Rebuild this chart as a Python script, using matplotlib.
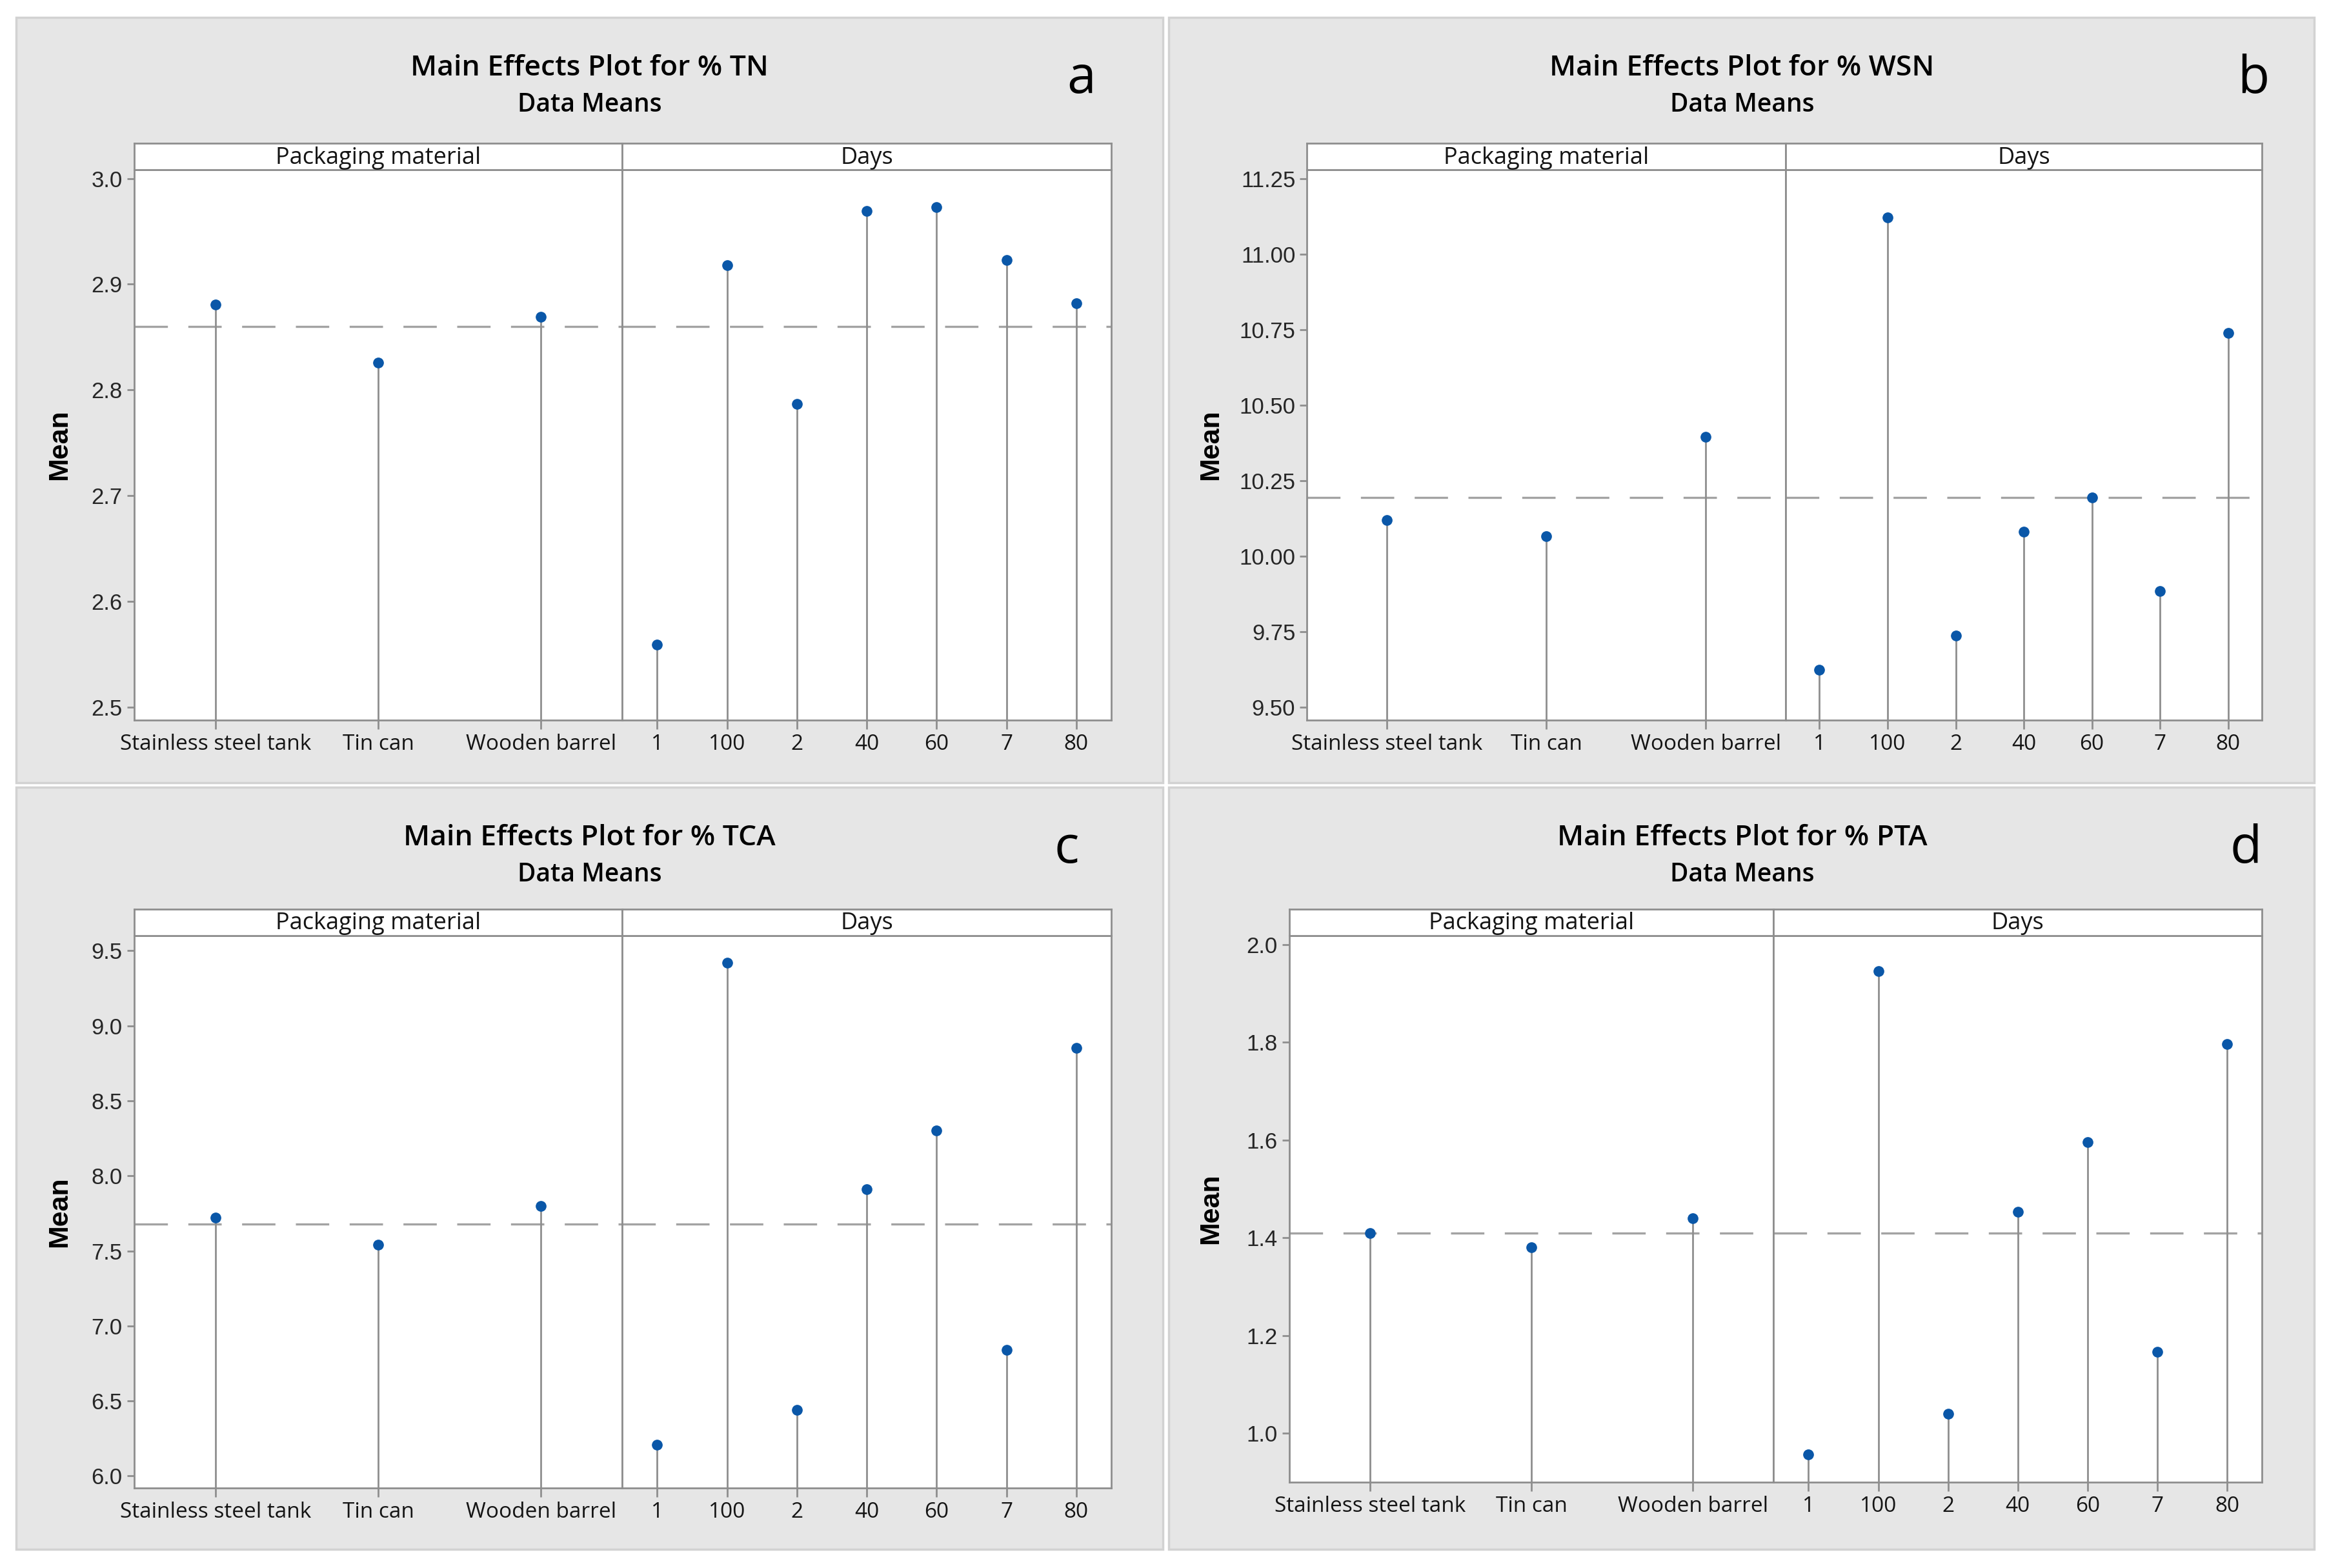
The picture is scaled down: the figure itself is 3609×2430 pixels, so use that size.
import matplotlib
matplotlib.use("Agg")
import matplotlib.pyplot as plt
from matplotlib.patches import Rectangle

# factor levels
materials = ["Stainless steel tank", "Tin can", "Wooden barrel"]
days = ["1", "100", "2", "40", "60", "7", "80"]

# panel a: % TN
tn_mat = [2.881, 2.826, 2.869]
tn_days = [2.559, 2.918, 2.787, 2.969, 2.973, 2.923, 2.882]
tn_mean = 2.860

# panel b: % WSN
wsn_mat = [10.12, 10.066, 10.395]
wsn_days = [9.624, 11.122, 9.737, 10.081, 10.194, 9.885, 10.739]
wsn_mean = 10.194

# panel c: % TCA
tca_mat = [7.72, 7.54, 7.80]
tca_days = [6.21, 9.42, 6.44, 7.91, 8.30, 6.84, 8.85]
tca_mean = 7.68

# panel d: % PTA
pta_mat = [1.41, 1.38, 1.44]
pta_days = [0.957, 1.945, 1.04, 1.453, 1.596, 1.167, 1.796]
pta_mean = 1.41

GRAY = "#8e8e8e"
BLUE = "#0a57a8"
TXT = ["Open Sans", "DejaVu Sans"]
NUM = ["Liberation Sans", "DejaVu Sans"]

fig = plt.figure(figsize=(36.09, 24.30), dpi=100)
fig.patch.set_facecolor("white")


def panel(bg, left, mid, right, bottom, top, strip_top, title, letter, tx, lx,
          mat_vals, day_vals, mean, ylim, yticks, fmt, ylabel_x):
    # grey panel background (behind the axes)
    fig.patches.append(Rectangle((bg[0], bg[1]), bg[2] - bg[0], bg[3] - bg[1],
                                 transform=fig.transFigure, facecolor="#e6e6e6",
                                 edgecolor="#d2d2d2", linewidth=2.5, zorder=-5))
    ty = bg[3] - 0.0325
    fig.text(tx, ty, "Main Effects Plot for " + title, ha="center", va="center",
             fontsize=32, fontweight="semibold", family=TXT)
    fig.text(tx, ty - 0.0235, "Data Means", ha="center", va="center",
             fontsize=28, fontweight="semibold", family=TXT)
    fig.text(lx, ty - 0.007, letter, ha="center", va="center", fontsize=58, family=TXT)

    ax1 = fig.add_axes([left, bottom, mid - left, top - bottom])
    ax2 = fig.add_axes([mid, bottom, right - mid, top - bottom], sharey=ax1)
    for ax, labels, vals in [(ax1, materials, mat_vals), (ax2, days, day_vals)]:
        x = list(range(len(labels)))
        ax.set_xlim(-0.5, len(labels) - 0.5)
        ax.set_ylim(*ylim)
        ax.vlines(x, ylim[0], vals, color=GRAY, lw=2.0, zorder=2)
        ax.axhline(mean, color="#a3a3a3", lw=2.4, dashes=(15.5, 9.5), zorder=1)
        ax.plot(x, vals, "o", color=BLUE, ms=11, zorder=3)
        ax.set_xticks(x)
        ax.set_xticklabels(labels, fontsize=24, family=TXT, color="#141414")
        for s in ax.spines.values():
            s.set_color(GRAY)
            s.set_linewidth(2.0)
        ax.tick_params(axis="x", length=10, width=2, color=GRAY, pad=5)
    ax1.set_yticks(yticks)
    ax1.set_yticklabels([fmt % v for v in yticks], fontsize=25, family=NUM, color="#262626")
    ax1.tick_params(axis="y", length=8, width=2, color=GRAY, pad=5)
    ax2.tick_params(axis="y", left=False, labelleft=False)
    fig.text(ylabel_x, (bottom + top) / 2, "Mean", rotation=90, ha="center", va="center",
             fontsize=31, fontweight="bold", family=NUM)

    # strip headers
    for a, b, name in [(left, mid, "Packaging material"), (mid, right, "Days")]:
        sx = fig.add_axes([a, top, b - a, strip_top - top])
        sx.set_xticks([])
        sx.set_yticks([])
        for s in sx.spines.values():
            s.set_color(GRAY)
            s.set_linewidth(2.0)
        sx.text(0.5, 0.45, name, ha="center", va="center", fontsize=26,
                family=TXT, color="#141414", transform=sx.transAxes)


panel((0.0069, 0.5008, 0.4994, 0.9889), 0.0576, 0.2672, 0.4771, 0.5406, 0.8918, 0.9086,
      "% TN", "a", 0.2532, 0.4643, tn_mat, tn_days, tn_mean, (2.4874, 3.0084),
      [2.5, 2.6, 2.7, 2.8, 2.9, 3.0], "%.1f", 0.0255)
panel((0.5019, 0.5008, 0.9936, 0.9889), 0.5612, 0.7666, 0.9713, 0.5406, 0.8918, 0.9086,
      "% WSN", "b", 0.748, 0.9675, wsn_mat, wsn_days, wsn_mean, (9.456, 11.28),
      [9.5, 9.75, 10.0, 10.25, 10.5, 10.75, 11.0, 11.25], "%.2f", 0.5198)
panel((0.0069, 0.0121, 0.4994, 0.498), 0.0576, 0.2672, 0.4771, 0.0510, 0.4033, 0.4203,
      "% TCA", "c", 0.2532, 0.4579, tca_mat, tca_days, tca_mean, (5.92, 9.60),
      [6.0, 6.5, 7.0, 7.5, 8.0, 8.5, 9.0, 9.5], "%.1f", 0.0255)
panel((0.5019, 0.0121, 0.9936, 0.498), 0.5536, 0.7615, 0.9713, 0.0547, 0.4033, 0.4203,
      "% PTA", "d", 0.748, 0.9643, pta_mat, pta_days, pta_mean, (0.90, 2.018),
      [1.0, 1.2, 1.4, 1.6, 1.8, 2.0], "%.1f", 0.5198)

fig.savefig("out.png", dpi=100)
